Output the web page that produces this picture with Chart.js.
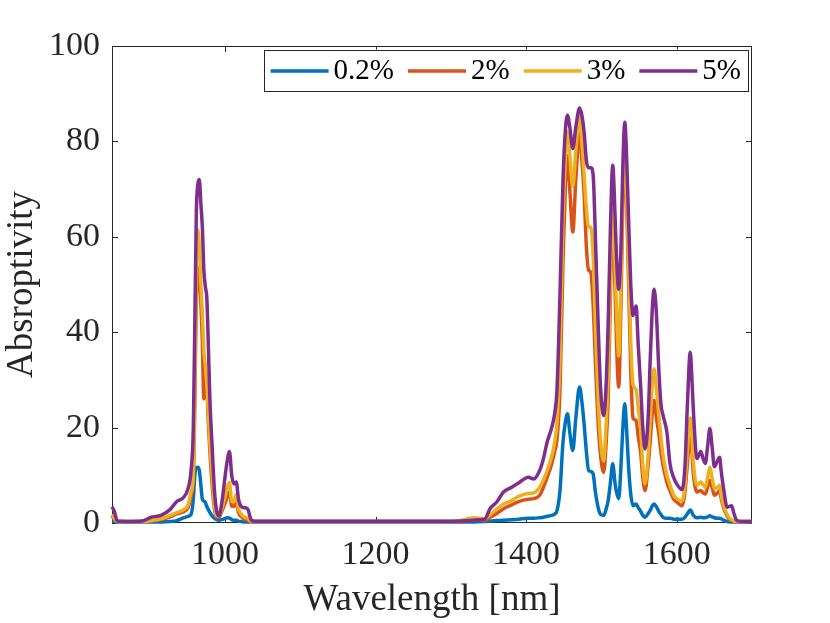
<!DOCTYPE html>
<html lang="en">
<head>
<meta charset="UTF-8">
<title>Absroptivity</title>
<style>
    html, body { margin: 0; padding: 0; background: #fff; }
    #wrap { width: 830px; height: 623px; }
</style>
</head>
<body>
<div id="wrap"><canvas id="myChart" width="830" height="623"></canvas></div>
<script src="https://cdn.jsdelivr.net/npm/chart.js"></script>
<script>
// wavelength grid [nm]
const wavelength = [
    850, 853, 857, 870, 890, 902, 915, 927, 936, 944,
    951, 955, 958, 960, 962, 964, 966, 968, 970, 972,
    974, 976, 978, 980, 983, 986, 989, 992, 996, 1000,
    1003, 1006, 1009, 1012, 1015, 1018, 1022, 1026, 1030, 1035,
    1040, 1060, 1100, 1200,
    1290, 1312, 1330, 1345, 1352, 1361, 1370, 1381, 1390, 1403,
    1410, 1418, 1423, 1428, 1434, 1438, 1441, 1445, 1449, 1452,
    1455, 1458, 1462, 1466, 1471, 1474, 1477, 1480, 1483, 1486,
    1489, 1492, 1496, 1499, 1503, 1506, 1509, 1512, 1515, 1518,
    1520, 1523, 1526, 1528, 1531, 1533, 1536, 1539, 1542, 1546,
    1549, 1552, 1555, 1558, 1562, 1565, 1568, 1570, 1573, 1576,
    1579, 1582, 1587, 1591, 1596, 1600, 1607, 1611, 1614, 1618,
    1620, 1622, 1627, 1632, 1635, 1638, 1641, 1644, 1647, 1650,
    1654, 1657, 1659, 1662, 1667, 1670, 1673, 1676, 1680, 1690,
    1700
];

// 0.2%
const abs02 = [
    0.4, 0.3, 0.2, 0.2, 0.2, 0.2, 0.2, 0.3, 0.5, 1.0,
    1.4, 1.8, 5, 10, 11.6, 11.7, 11, 8, 5, 4.6,
    4.3, 3.4, 2.8, 2.2, 1.5, 1.0, 0.7, 0.6, 0.7, 0.9,
    1.1, 1.0, 0.7, 0.6, 0.6, 0.4, 0.3, 0.2, 0.2, 0.2,
    0.2, 0.2, 0.2, 0.2,
    0.2, 0.2, 0.2, 0.3, 0.4, 0.5, 0.6, 0.7, 0.8, 1.0,
    1.0, 1.1, 1.2, 1.4, 1.6, 1.9, 2.6, 6.8, 17, 21,
    22.9, 19, 15.2, 22, 28.5, 25.5, 20.8, 15, 11, 10.8,
    10.3, 6.5, 3, 1.8, 1.6, 2.8, 4.7, 8.5, 12.4, 8.5,
    6.5, 5.1, 12, 18.5, 25, 21, 12, 6, 3.6, 4,
    3.2, 2.5, 1.6, 1.2, 2, 2.7, 3.7, 4, 3.4, 2.5,
    1.8, 1.2, 1.0, 1.0, 0.8, 0.8, 0.8, 1.2, 1.9, 2.7,
    2.3, 1.6, 1.1, 1.2, 1.1, 1.1, 1.3, 1.5, 1.3, 1.1,
    1.0, 1.0, 0.9, 0.6, 0.3, 0.2, 0.2, 0.2, 0.2, 0.2,
    0.2
];

// 2%
const abs2 = [
    1.5, 0.8, 0.3, 0.3, 0.3, 0.4, 0.7, 1.3, 1.9, 2.3,
    3.2, 5.5, 9, 25, 48, 53.5, 50, 46, 38, 26,
    30, 28, 21, 15, 8, 3, 1.2, 1.2, 2.5, 4,
    5.5, 6.5, 3.5, 3.5, 4.5, 2.2, 1.3, 0.8, 0.6, 0.3,
    0.3, 0.3, 0.3, 0.3,
    0.3, 0.3, 0.6, 0.5, 1.2, 2.0, 3.0, 3.8, 4.5, 5.0,
    5.1, 5.8, 7.5, 9.6, 12.4, 15, 17.5, 28, 55, 70,
    77, 70, 61, 72, 81.7, 76, 69, 58, 53, 52.5,
    46, 34, 20, 14, 10.6, 16, 26, 48, 66, 50,
    38, 28.5, 46, 64, 79.5, 70, 51, 32, 22, 21.5,
    18, 15, 9.5, 6.8, 12, 17.5, 24, 25.7, 22, 19,
    15, 12, 8.5, 6.8, 5, 4.4, 3.6, 6.5, 12, 18.7,
    15.5, 10.5, 6.5, 6.8, 6.3, 6.1, 7.5, 8.9, 7.5, 5.8,
    6.3, 6.8, 5.2, 3.3, 1.4, 0.7, 0.5, 0.3, 0.3, 0.3,
    0.3
];

// 3%
const abs3 = [
    1.8, 1.0, 0.3, 0.3, 0.3, 0.5, 0.9, 1.6, 2.2, 2.7,
    3.8, 6.5, 10, 30, 55, 61.5, 58, 50, 44, 36,
    33, 29, 23, 17, 10, 4, 1.5, 1.5, 3, 5.5,
    7.5, 8.5, 4.5, 4.5, 6, 3, 1.8, 1.2, 1.0, 0.3,
    0.3, 0.3, 0.3, 0.3,
    0.3, 0.5, 1.1, 0.9, 1.7, 2.9, 4.0, 4.7, 5.6, 6.2,
    6.3, 7.5, 9, 11, 14, 17, 21, 35, 64, 76,
    82, 77, 70.5, 78, 85.5, 80, 73, 66, 62, 62,
    56, 41, 25, 17, 13, 20, 31, 52, 70, 55,
    45, 35, 52, 68, 81, 72, 55, 38, 29, 28,
    24, 20, 12, 8.2, 14, 22, 30, 32.3, 28, 23,
    18, 14, 10, 8, 5.8, 5.1, 4.7, 8, 15, 22,
    19, 13, 7.9, 8.6, 8, 7.5, 9.5, 11.7, 9.5, 7.2,
    7.5, 7.9, 6, 3.8, 1.8, 1.0, 0.7, 0.4, 0.3, 0.3,
    0.3
];

// 5%
const abs5 = [
    3.4, 2.5, 0.4, 0.3, 0.4, 1.2, 1.6, 2.8, 4.5, 5.2,
    7.2, 11, 20, 42, 65, 71, 72, 67, 62, 53,
    49.5, 47, 37, 26, 16, 7, 2.5, 1.5, 4.4, 9.5,
    13, 15, 10, 8.2, 8.6, 5, 3.4, 3.2, 3.0, 0.6,
    0.35, 0.35, 0.35, 0.35,
    0.35, 0.4, 0.6, 0.8, 3.0, 4.4, 6.5, 7.5, 8.4, 9.6,
    9.2, 11, 13.5, 17, 20, 23, 28, 48, 72, 82,
    85.5, 83, 78.5, 83, 87, 85.5, 82, 76, 74.5, 74.5,
    73, 60, 40, 28, 22.5, 28, 42, 62, 75, 65,
    56, 49, 58, 72, 84, 79, 64, 50, 43.5, 45.5,
    37, 29, 20, 15.5, 22, 35, 46, 49, 44, 33,
    25, 22.5, 19, 12.5, 9.5, 8.2, 7, 12, 24, 35.8,
    31, 24, 13.5, 15, 13.5, 12.5, 16, 19.8, 16, 11.8,
    13, 13.8, 11, 7.5, 3.3, 3.5, 3.6, 2, 0.5, 0.3,
    0.3
];

const seriesLabels = ['0.2%', '2%', '3%', '5%'];
const seriesColors = ['#0072BD', '#D95319', '#EDB120', '#7E2F8E'];
const xTicks = [1000, 1200, 1400, 1600];
const yTicks = [0, 20, 40, 60, 80, 100];

const serif = "'Liberation Serif', 'Times New Roman', serif";
const axisColor = '#262626';

// box with inward tick marks on all four sides
const boxPlugin = {
    id: 'matlabBox',
    beforeDatasetsDraw(chart) {
        const ctx = chart.ctx;
        const a = chart.chartArea;
        const x = chart.scales.x, y = chart.scales.y;
        ctx.save();
        ctx.strokeStyle = axisColor;
        ctx.lineWidth = 1;
        ctx.strokeRect(a.left + 0.5, a.top + 0.5, a.right - a.left - 1, a.bottom - a.top - 1);
        ctx.beginPath();
        xTicks.forEach(function (v) {
            const px = Math.round(x.getPixelForValue(v)) + 0.5;
            ctx.moveTo(px, a.bottom); ctx.lineTo(px, a.bottom - 6);
            ctx.moveTo(px, a.top); ctx.lineTo(px, a.top + 6);
        });
        yTicks.forEach(function (v) {
            const py = Math.round(y.getPixelForValue(v)) + 0.5;
            ctx.moveTo(a.left, py); ctx.lineTo(a.left + 6, py);
            ctx.moveTo(a.right, py); ctx.lineTo(a.right - 6, py);
        });
        ctx.stroke();
        ctx.restore();
    }
};

// legend box in the upper right corner of the axes
const legendPlugin = {
    id: 'matlabLegend',
    afterDraw(chart) {
        const ctx = chart.ctx;
        const a = chart.chartArea;
        const sets = chart.data.datasets;
        ctx.save();
        ctx.font = '29px ' + serif;
        const lineLen = 58, gapText = 5, gapItem = 14, pad = 7;
        let total = pad * 2;
        sets.forEach(function (ds, i) {
            total += lineLen + gapText + ctx.measureText(ds.label).width;
            if (i < sets.length - 1) total += gapItem;
        });
        const right = a.right - 4;
        const left = right - total;
        const top = a.top + 3.5, h = 41;
        ctx.fillStyle = '#fff';
        ctx.fillRect(left, top, total, h);
        ctx.strokeStyle = axisColor;
        ctx.lineWidth = 1;
        ctx.strokeRect(Math.round(left) + 0.5, Math.round(top) + 0.5, Math.round(total), h);
        let cx = left + pad;
        const ly = top + 21.5;
        sets.forEach(function (ds) {
            ctx.strokeStyle = ds.borderColor;
            ctx.lineWidth = 3.5;
            ctx.beginPath();
            ctx.moveTo(cx, ly);
            ctx.lineTo(cx + lineLen, ly);
            ctx.stroke();
            cx += lineLen + gapText;
            ctx.fillStyle = '#000';
            ctx.textBaseline = 'alphabetic';
            ctx.fillText(ds.label, cx, top + 29);
            cx += ctx.measureText(ds.label).width + gapItem;
        });
        ctx.restore();
    }
};

const allSeries = [abs02, abs2, abs3, abs5];
const datasets = allSeries.map(function (vals, i) {
    return {
        label: seriesLabels[i],
        data: wavelength.map(function (w, j) { return { x: w, y: vals[j] }; }),
        borderColor: seriesColors[i],
        backgroundColor: seriesColors[i],
        borderWidth: 3.5,
        pointRadius: 0,
        cubicInterpolationMode: 'monotone',
        clip: 6,
        order: allSeries.length - 1 - i   // last series drawn on top
    };
});

const ctx = document.getElementById('myChart');
const mychart = new Chart(ctx, {
    type: 'line',
    data: { datasets: datasets },
    options: {
        responsive: false,
        animation: false,
        layout: { padding: { left: 0, right: 78, top: 46, bottom: 0 } },
        plugins: {
            legend: { display: false },
            tooltip: { enabled: false }
        },
        scales: {
            x: {
                type: 'linear',
                min: 850,
                max: 1700,
                afterBuildTicks: function (s) { s.ticks = xTicks.map(function (v) { return { value: v }; }); },
                afterFit: function (s) { s.height = 100; },
                grid: { display: false, drawTicks: false },
                border: { display: false },
                ticks: {
                    padding: 12,
                    maxRotation: 0,
                    color: axisColor,
                    font: { family: serif, size: 34 },
                    callback: function (v) { return String(v); }
                },
                title: {
                    display: true,
                    text: 'Wavelength [nm]',
                    color: axisColor,
                    font: { family: serif, size: 37 },
                    padding: { top: 0, bottom: 1 }
                }
            },
            y: {
                min: 0,
                max: 100,
                afterBuildTicks: function (s) { s.ticks = yTicks.map(function (v) { return { value: v }; }); },
                afterFit: function (s) { s.width = 112; },
                grid: { display: false, drawTicks: false },
                border: { display: false },
                ticks: {
                    padding: 12,
                    color: axisColor,
                    font: { family: serif, size: 34 },
                    callback: function (v) { return String(v); }
                },
                title: {
                    display: true,
                    text: 'Absroptivity',
                    color: axisColor,
                    font: { family: serif, size: 37 },
                    padding: { top: 0, bottom: 0 }
                }
            }
        }
    },
    plugins: [boxPlugin, legendPlugin]
});
</script>
</body>
</html>
